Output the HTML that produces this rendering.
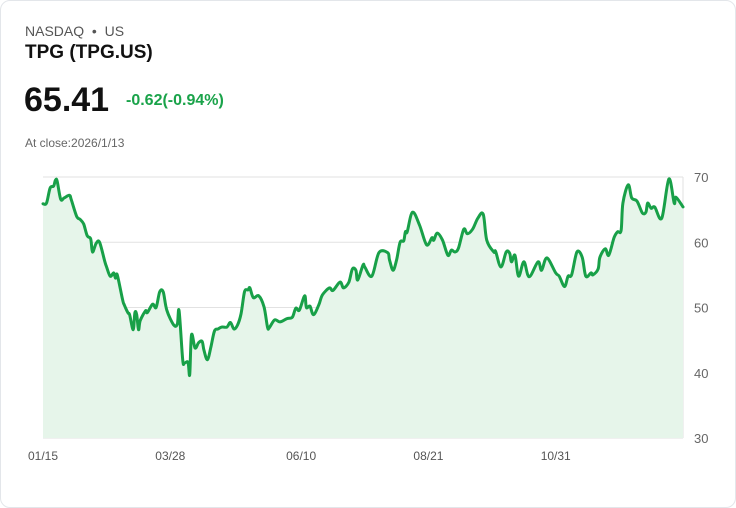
<!DOCTYPE html>
<html><head><meta charset="utf-8"><style>
body{margin:0;width:736px;height:508px;background:#fff;font-family:"Liberation Sans",sans-serif;overflow:hidden}
.card{position:absolute;left:0;top:0;width:734px;height:506px;border:1px solid #e3e6ea;border-radius:10px}
.t{position:absolute;white-space:nowrap}
</style></head><body>
<div class="card"></div>
<div class="t" style="left:25px;top:23px;font-size:14px;color:#555">NASDAQ &nbsp;•&nbsp; US</div>
<div class="t" style="left:25px;top:42px;font-size:19px;font-weight:bold;color:#111">TPG (TPG.US)</div>
<div class="t" style="left:24px;top:81px;font-size:34px;font-weight:bold;color:#111">65.41</div>
<div class="t" style="left:126px;top:92px;font-size:16px;font-weight:bold;color:#1aa34a">-0.62(-0.94%)</div>
<div class="t" style="left:25px;top:136px;font-size:12px;color:#666">At close:2026/1/13</div>
<svg id="chart" width="736" height="508" style="position:absolute;left:0;top:0"></svg>
<script>
const days=[0,2,4,6,7,8,10,12,15,16,19,21,23,25,27,28,30,32,35,36,38,40,41,42,45,46,48,49,51,52,53,54,55,58,59,62,64,66,68,70,74,76,77,79,80,82,83,84,86,88,90,91,93,95,97,99,101,104,106,108,110,112,114,116,117,119,122,125,127,128,131,134,138,141,143,145,148,149,151,153,156,158,162,164,168,170,173,175,177,178,181,182,186,190,195,196,198,200,202,204,205,206,209,213,217,220,221,223,226,229,231,233,235,238,240,243,246,249,251,255,256,259,262,264,265,267,269,272,275,280,282,285,290,292,295,297,299,302,305,307,310,311,314,315,318,320,323,325,327,328,331,333,336,339,341,342,344,346,350,354,357,358,362];
const prices=[65.9,66,68.3,68.6,69.5,69.4,66.6,66.8,67.2,66.5,64,63.5,62.8,61,60.5,58.5,59.8,60,57,56.2,54.8,55.3,54.5,55,51.2,50.4,49.2,48.9,46.6,49.2,48.9,46.6,48,49.5,49.2,50.5,50,52.4,52.4,49.6,47.3,47.5,49.5,42,41.5,41.6,39.7,45.8,43.8,44.6,44.8,43.5,42,44,46.4,46.7,47,47,47.7,46.7,47.3,49,52.4,52.7,53,51.5,51.8,50.1,47,46.9,48.1,47.8,48.3,48.5,49.9,49.6,51.8,50,50.2,48.9,50.4,51.9,53,52.6,53.9,53,53.9,55.9,55.7,54.2,56.5,56.2,54.8,58.4,58.4,57.3,55.7,57.3,60,60.2,61.6,61.6,64.6,62.6,59.6,60.7,60.3,61.4,60.3,58,58.8,58.5,59.1,62,61.3,62,63.7,64.3,60.3,58.5,58.6,56.2,58.5,58.3,57,58,54.8,57,54.7,57,55.7,57.6,55.3,54.8,53.2,54.8,55,58.5,57.7,54.8,55.3,55,55.9,57.7,59,58,60.7,61.6,61.8,66,68.8,66.8,66.3,64.5,64.6,66,65.2,65.4,63.7,69.7,66,66.9,65.41];
const yTicks=[30,40,50,60,70];
const xTickDays=[0,72,146,218,290];
const xTickLabels=["01/15","03/28","06/10","08/21","10/31"];
const svg=document.getElementById('chart');const NS='http://www.w3.org/2000/svg';
const X0=43,X1=683,Y0=438,Y1=177;
const xs=d=>X0+d/362*(X1-X0);
const ys=v=>Y0-(v-30)/40*(Y0-Y1);
function mk(t,a){const e=document.createElementNS(NS,t);for(const k in a)e.setAttribute(k,a[k]);svg.appendChild(e);return e;}
yTicks.forEach(v=>{
const g=mk('line',{x1:X0,x2:X1,y1:ys(v),y2:ys(v),stroke:'#e2e2e2','stroke-width':1});


const t=mk('text',{x:694,y:ys(v)+5,'font-size':13,fill:'#666','font-family':'Liberation Sans, sans-serif'});t.textContent=v;


});
const ax=mk('line',{x1:X1,x2:X1,y1:Y1,y2:Y0,stroke:'#e2e2e2'});


xTickDays.forEach((d,i)=>{
const t=mk('text',{x:xs(d),y:460,'font-size':12,fill:'#555','text-anchor':'middle','font-family':'Liberation Sans, sans-serif'});t.textContent=xTickLabels[i];


});
const n=Math.min(days.length,prices.length);
const P=[];for(let i=0;i<n;i++)P.push([xs(days[i]),ys(prices[i])]);
let p='M'+P[0][0].toFixed(1)+','+P[0][1].toFixed(1);
for(let i=0;i<n-1;i++){const a=P[Math.max(0,i-1)],b=P[i],c=P[i+1],d=P[Math.min(n-1,i+2)];
const c1=[b[0]+(c[0]-a[0])/6,b[1]+(c[1]-a[1])/6],c2=[c[0]-(d[0]-b[0])/6,c[1]-(d[1]-b[1])/6];
p+='C'+c1[0].toFixed(1)+','+c1[1].toFixed(1)+' '+c2[0].toFixed(1)+','+c2[1].toFixed(1)+' '+c[0].toFixed(1)+','+c[1].toFixed(1);}
const area=mk('path',{d:p+'L'+P[n-1][0]+','+Y0+'L'+P[0][0]+','+Y0+'Z',fill:'#e6f5ea'});


const ln=mk('path',{d:p,fill:'none',stroke:'#18a048','stroke-width':3,'stroke-linejoin':'round','stroke-linecap':'round'});


</script>
</body></html>
